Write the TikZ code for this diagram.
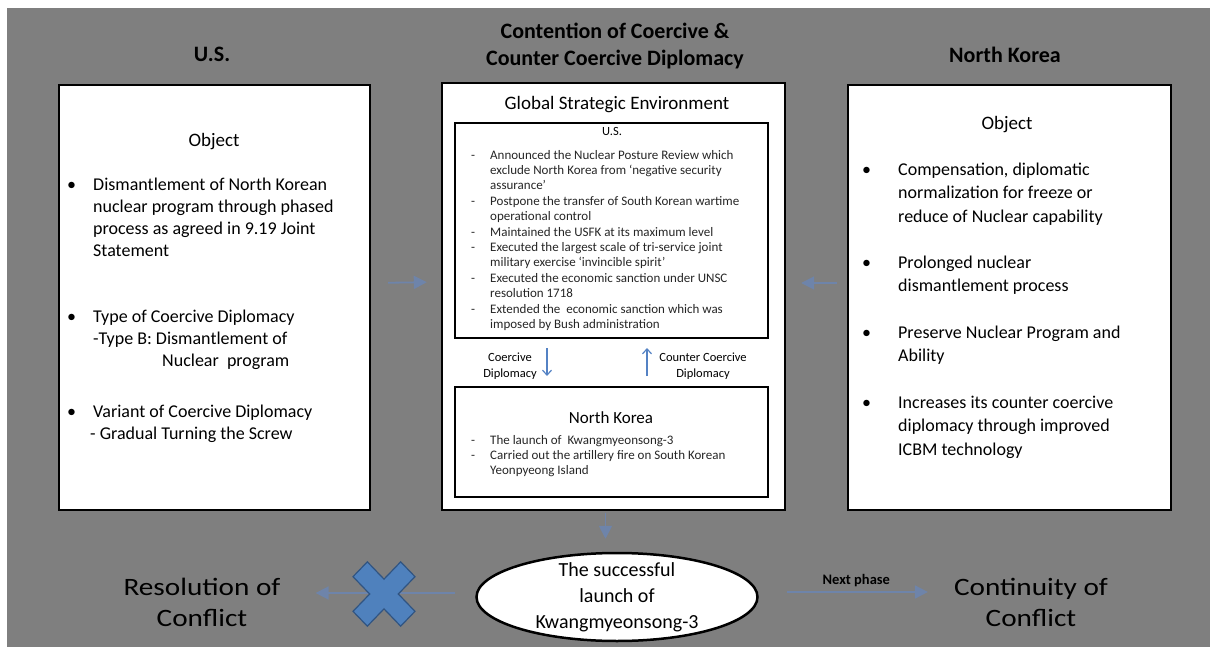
\documentclass[tikz,border=0pt]{standalone}
\usepackage{fontspec}
\setmainfont{Carlito}
\newfontfamily\widefont{Carlito}[FakeStretch=1.17]
\usetikzlibrary{arrows.meta,shapes.geometric}

\definecolor{bggray}{RGB}{127,127,127}
\definecolor{fadeblue}{RGB}{110,132,170}
\definecolor{linkblue}{RGB}{84,130,196}
\definecolor{crossfill}{RGB}{79,129,189}
\definecolor{crossline}{RGB}{48,84,130}

\newcommand\fsz[2]{\fontsize{#1}{#2}\selectfont}

\tikzset{
  panel/.style={draw,line width=2.4pt,fill=white,inner sep=0},
  subpanel/.style={draw,line width=2pt,inner sep=0},
  head/.style={font=\bfseries\fsz{22}{27},align=center,inner sep=0},
  txt/.style={inner sep=0,anchor=north west,align=left},
  fade/.style={draw=fadeblue,line width=1.8pt,-{Triangle[length=13pt,width=13pt]}},
  link/.style={draw=linkblue,line width=1.2pt,-{Straight Barb[length=5pt,width=9pt]}}
}

\begin{document}
\begin{tikzpicture}[x=1pt,y=-1pt]
\useasboundingbox (0,0) rectangle (1216,650);
\fill[white] (0,0) rectangle (1216,650);
\fill[bggray] (7,8) rectangle (1210,647);

% column heads
\node[head,anchor=base] (ushead) at (212,62) {U.S.};
\node[head,anchor=north] (midhead) at (615,19.1) {\strut Contention of Coercive \&\\Counter Coercive Diplomacy};
\node[head,anchor=base] (nkhead) at (1005,63) {North Korea};

% the three panels
\node[panel,minimum width=311,minimum height=425] (usside) at (214.5,297.5) {};
\node[panel,minimum width=343,minimum height=427] (midbox) at (613.5,296.5) {};
\node[panel,minimum width=323,minimum height=425] (nkside) at (1009.5,297.5) {};

% U.S. object
\node[font=\fsz{19}{23},anchor=base] (usobj) at (214,147) {Object};
\node[txt,font=\fsz{18}{22}] (usitemA) at (93,174.6)
  {\strut\llap{\textbullet\hspace{17pt}}Dismantlement of North Korean\\nuclear program through phased\\process as agreed in 9.19 Joint\\Statement};
\node[txt,font=\fsz{18}{22}] (usitemB) at (93,306.6)
  {\strut\llap{\textbullet\hspace{17pt}}Type of Coercive Diplomacy\\-Type B: Dismantlement of\\\hspace*{69pt}Nuclear\ \ program};
\node[txt,font=\fsz{18}{22}] (usitemC) at (93,401.6)
  {\strut\llap{\textbullet\hspace{17pt}}Variant of Coercive Diplomacy\\\hspace*{-3pt}- Gradual Turning the Screw};

% North Korea object
\node[font=\fsz{19}{23},anchor=base] (nkobj) at (1007,130) {Object};
\node[txt,font=\fsz{18}{23.5}] (nkitemA) at (898,158.55)
  {\strut\llap{\textbullet\hspace{27pt}}Compensation, diplomatic\\normalization for freeze or\\reduce of Nuclear capability};
\node[txt,font=\fsz{18}{23.5}] (nkitemB) at (898,251.55)
  {\strut\llap{\textbullet\hspace{27pt}}Prolonged nuclear\\dismantlement process};
\node[txt,font=\fsz{18}{23.5}] (nkitemC) at (898,321.55)
  {\strut\llap{\textbullet\hspace{27pt}}Preserve Nuclear Program and\\Ability};
\node[txt,font=\fsz{18}{23.5}] (nkitemD) at (898,391.55)
  {\strut\llap{\textbullet\hspace{27pt}}Increases its counter coercive\\diplomacy through improved\\ICBM technology};

% global strategic environment
\node[font=\fsz{19}{23},anchor=base] (envhead) at (617,110) {Global Strategic Environment};
\node[subpanel,minimum width=313,minimum height=215] (usenv) at (611.5,230.5) {};
\node[font=\fsz{12.5}{15},anchor=base] (envus) at (612,136) {U.S.};
\node[txt,font=\fsz{13}{15.4},text=black!85] (envuslist) at (490,148.2)
  {\strut\llap{-\hspace{15pt}}Announced the Nuclear Posture Review which\\exclude North Korea from `negative security\\assurance'\\
   \llap{-\hspace{15pt}}Postpone the transfer of South Korean wartime\\operational control\\
   \llap{-\hspace{15pt}}Maintained the USFK at its maximum level\\
   \llap{-\hspace{15pt}}Executed the largest scale of tri-service joint\\military exercise `invincible spirit'\\
   \llap{-\hspace{15pt}}Executed the economic sanction under UNSC\\resolution 1718\\
   \llap{-\hspace{15pt}}Extended the\ \ economic sanction which was\\imposed by Bush administration};

\node[subpanel,minimum width=313,minimum height=110] (nkenv) at (611.5,442) {};
\node[font=\fsz{17}{20},anchor=base] (envnk) at (611,423) {North Korea};
\node[txt,font=\fsz{13}{15},text=black!85] (envnklist) at (490,433.5)
  {\strut\llap{-\hspace{15pt}}The launch of\ \ Kwangmyeonsong-3\\
   \llap{-\hspace{15pt}}Carried out the artillery fire on South Korean\\Yeonpyeong Island};

\node[txt,anchor=north,align=center,font=\fsz{12.5}{16}] (coerlbl) at (510,349.8) {\strut Coercive\\Diplomacy};
\node[txt,anchor=north,align=center,font=\fsz{12.5}{16}] (counterlbl) at (703,349.8) {\strut Counter Coercive\\Diplomacy};
\draw[link,shorten <=9pt,shorten >=10pt] ([xshift=-64.5pt]usenv.south) -- ([xshift=-64.5pt]nkenv.north);
\draw[link,shorten <=10pt,shorten >=9pt] ([xshift=35.5pt]nkenv.north) -- ([xshift=35.5pt]usenv.south);

% side arrows
\draw[fade,shorten <=17pt,shorten >=14pt] ([yshift=14.5pt]usside.east) -- ([yshift=14.5pt]midbox.west);
\draw[fade,shorten <=10pt,shorten >=15pt] ([yshift=14.5pt]nkside.west) -- ([yshift=13.5pt]midbox.east);

% outcome row
\node[ellipse,draw,line width=2.5pt,fill=white,minimum width=281,minimum height=88,
      inner xsep=0,inner ysep=-8pt,align=center,font=\fsz{20}{26}] (launch) at (617,597)
  {The successful\\launch of\\Kwangmyeonsong-3};
\node[anchor=north,align=center,inner sep=0,font=\widefont\fsz{25}{31}] (resolve) at (202,573.3) {\strut Resolution of\\Conflict};
\node[anchor=north,align=center,inner sep=0,font=\widefont\fsz{25}{31}] (continue) at (1031,573.3) {\strut Continuity of\\Conflict};

\draw[fade,shorten <=2pt,shorten >=13pt] ([xshift=-8pt]midbox.south) -- ([xshift=-8pt]midbox.south |- launch.north);
\draw[fade,shorten <=20pt,shorten >=35pt] ([yshift=4pt]launch.west) -- ([yshift=4pt]launch.west -| resolve.east);
\draw[fade,shorten <=28pt,shorten >=26pt] ([yshift=5pt]launch.east) -- ([yshift=5pt]launch.east -| continue.west)
  node[pos=0.5,anchor=base,yshift=8pt,inner sep=0,font=\bfseries\fsz{14.5}{17}] (nextlbl) {Next phase};

% blocked path
\begin{scope}[shift={(384,594)},xscale=33.7,yscale=35,rotate=45]
\draw[fill=crossfill,draw=crossline,line width=1.2pt]
  (0.3,0.3) -- (0.3,1) -- (-0.3,1) -- (-0.3,0.3) -- (-1,0.3) -- (-1,-0.3)
  -- (-0.3,-0.3) -- (-0.3,-1) -- (0.3,-1) -- (0.3,-0.3) -- (1,-0.3) -- (1,0.3) -- cycle;
\end{scope}
\end{tikzpicture}
\end{document}
